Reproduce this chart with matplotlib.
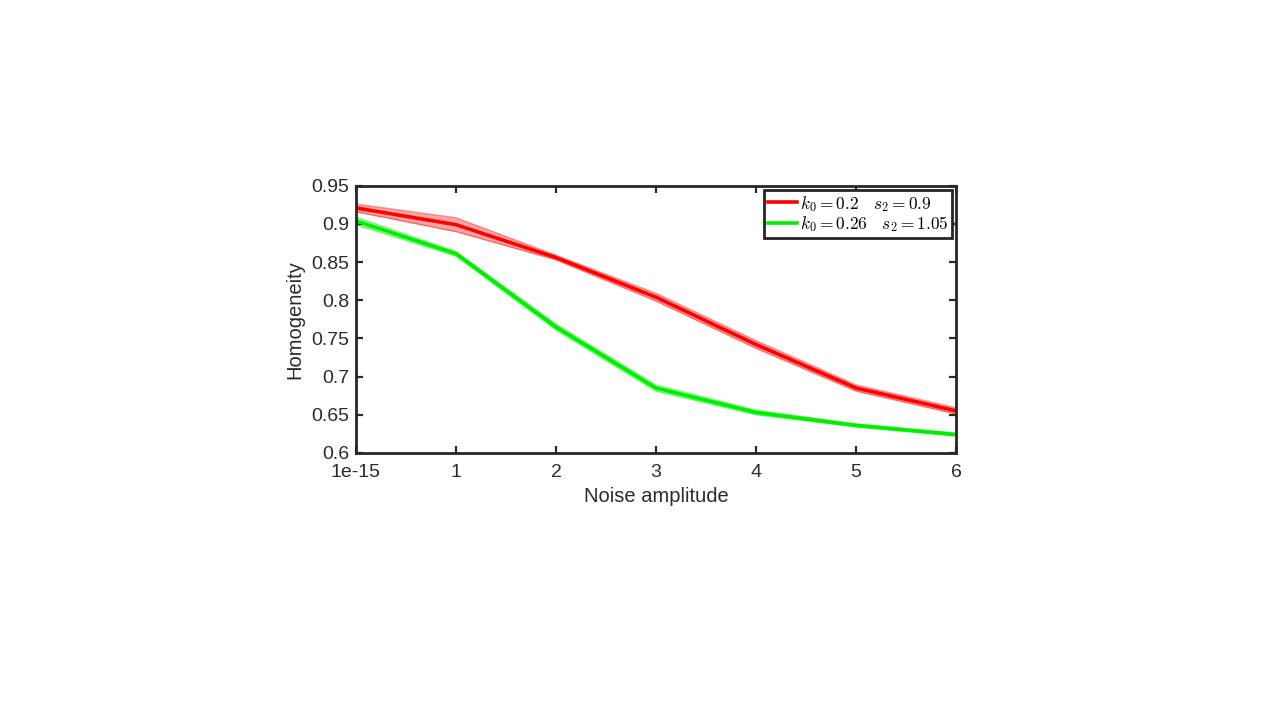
import matplotlib
matplotlib.use("Agg")
import matplotlib.pyplot as plt

# noise amplitude positions and tick labels
noise = [0, 1, 2, 3, 4, 5, 6]
tick_labels = ["1e-15", "1", "2", "3", "4", "5", "6"]

# mean homogeneity and spread for each parameter set
red_mean = [0.921, 0.899, 0.856, 0.804, 0.742, 0.685, 0.655]
red_err = [0.005, 0.009, 0.003, 0.005, 0.005, 0.004, 0.004]
green_mean = [0.904, 0.861, 0.765, 0.685, 0.653, 0.636, 0.624]
green_err = [0.005, 0.003, 0.004, 0.004, 0.003, 0.002, 0.002]

plt.rcParams['font.family'] = ['Liberation Sans', 'DejaVu Sans']
plt.rcParams['mathtext.fontset'] = 'cm'

fig = plt.figure(figsize=(12.8, 7.2), dpi=100)
ax = fig.add_axes([0.278, 0.371, 0.469, 0.371])

series = [
    (red_mean, red_err, "#ff0000", r"$k_0 = 0.2\quad s_2 = 0.9$"),
    (green_mean, green_err, "#00ee00", r"$k_0 = 0.26\quad s_2 = 1.05$"),
]
for mean, err, col, lab in series:
    lo = [m - e for m, e in zip(mean, err)]
    hi = [m + e for m, e in zip(mean, err)]
    ax.fill_between(noise, lo, hi, color=col, alpha=0.35, lw=0)
    ax.plot(noise, lo, color=col, lw=1.0, alpha=0.45)
    ax.plot(noise, hi, color=col, lw=1.0, alpha=0.45)
    ax.plot(noise, mean, color=col, lw=2.6, label=lab)

ax.set_xlim(0, 6)
ax.set_ylim(0.6, 0.95)
ax.set_xticks(noise)
ax.set_xticklabels(tick_labels)
ax.set_yticks([0.6, 0.65, 0.7, 0.75, 0.8, 0.85, 0.9, 0.95])
ax.set_yticklabels(["0.6", "0.65", "0.7", "0.75", "0.8", "0.85", "0.9", "0.95"])
ax.tick_params(direction='in', top=True, right=True, width=1.6, length=5,
               labelsize=14, colors='#2b2b2b')
ax.tick_params(axis='x', pad=8)
ax.tick_params(axis='y', pad=5)
for s in ax.spines.values():
    s.set_linewidth(2)
    s.set_color('#262626')

ax.set_xlabel("Noise amplitude", fontsize=14.5, color='#2b2b2b', labelpad=4)
ax.set_ylabel("Homogeneity", fontsize=14.5, color='#2b2b2b', labelpad=5)

leg = ax.legend(loc='upper right', fontsize=12.5, frameon=True, fancybox=False,
                borderaxespad=0.25, handlelength=1.7, handletextpad=0.15,
                labelspacing=0.05, borderpad=0.2)
leg.get_frame().set_edgecolor('#262626')
leg.get_frame().set_linewidth(2)
leg.get_frame().set_alpha(1)

fig.savefig("out.png", dpi=100)
